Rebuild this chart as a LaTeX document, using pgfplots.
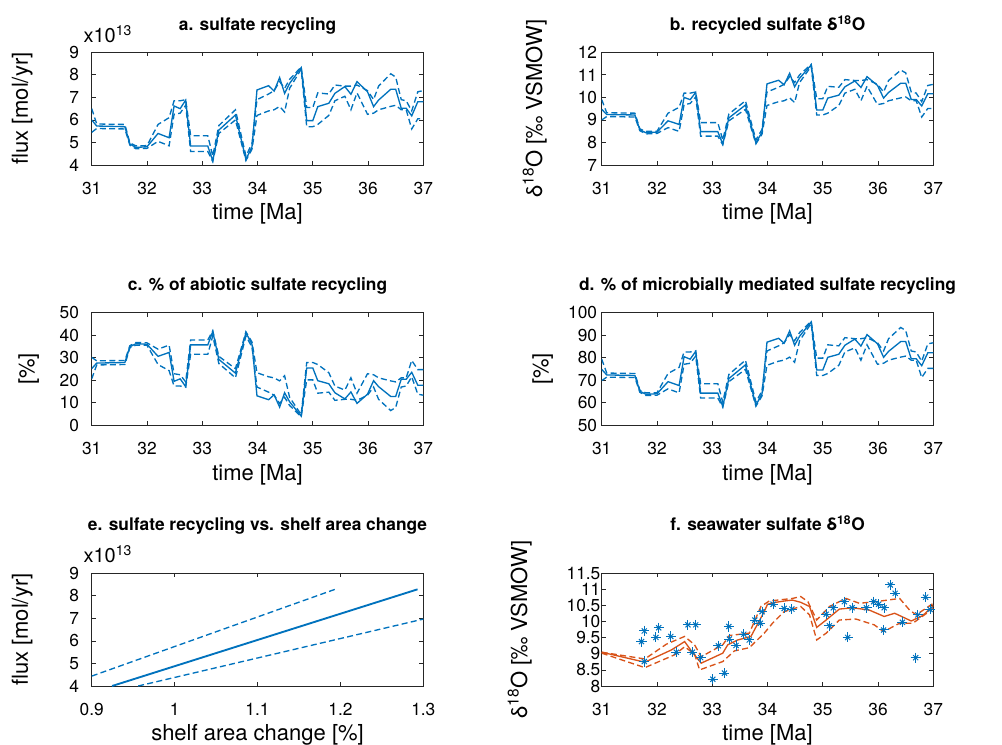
\documentclass[border=0pt]{standalone}
\usepackage{fontspec}
\setmainfont{TeX Gyre Heros}
\usepackage{pgfplots}
\usepackage{pgfplotstable}
\pgfplotsset{compat=1.18}
\definecolor{mblue}{RGB}{0,114,189}
\definecolor{morange}{RGB}{217,83,25}
\definecolor{axgray}{RGB}{38,38,38}

\pgfplotstableread{
t a aU aL b bU bL c cU cL d dU dL
31.00 6.00 6.50 5.45 9.47 9.90 9.00 25.17 30.16 20.63 74.83 79.37 69.84
31.09 5.73 5.82 5.62 9.24 9.32 9.15 27.62 28.62 26.80 72.38 73.20 71.38
31.60 5.70 5.80 5.60 9.22 9.30 9.13 27.89 28.80 26.99 72.11 73.01 71.20
31.69 4.93 4.98 4.88 8.56 8.60 8.52 34.89 35.34 34.43 65.11 65.57 64.66
31.80 4.78 4.85 4.72 8.43 8.49 8.38 36.25 36.79 35.61 63.75 64.39 63.21
32.00 4.81 4.86 4.74 8.46 8.50 8.40 35.98 36.61 35.52 64.02 64.48 63.39
32.20 5.40 5.80 5.05 8.96 9.30 8.66 30.62 33.80 26.99 69.38 73.01 66.20
32.40 5.21 6.10 4.85 8.80 9.56 8.49 32.34 35.61 24.26 67.66 75.74 64.39
32.49 6.62 6.85 6.25 10.00 10.19 9.68 19.54 22.90 17.45 80.46 82.55 77.10
32.60 6.50 6.85 6.30 9.90 10.19 9.73 20.63 22.45 17.45 79.37 82.55 77.55
32.70 6.88 6.90 6.65 10.22 10.24 10.02 17.18 19.27 17.00 82.82 83.00 80.73
32.79 4.84 5.30 4.60 8.48 8.88 8.28 35.70 37.88 31.53 64.30 68.47 62.12
33.10 4.84 5.30 4.60 8.48 8.88 8.28 35.70 37.88 31.53 64.30 68.47 62.12
33.19 4.19 4.40 4.15 7.93 8.11 7.90 41.60 41.97 39.70 58.40 60.30 58.03
33.30 5.55 5.75 5.40 9.09 9.26 8.96 29.26 30.62 27.44 70.74 72.56 69.38
33.60 6.22 6.45 6.00 9.66 9.85 9.47 23.17 25.17 21.08 76.83 78.92 74.83
33.79 4.25 4.40 4.20 7.98 8.11 7.94 41.06 41.51 39.70 58.94 60.30 58.49
33.90 4.81 4.95 4.70 8.46 8.58 8.37 35.98 36.97 34.70 64.02 65.30 63.03
33.99 7.33 6.90 6.20 10.60 10.24 9.64 13.09 23.35 17.00 86.91 83.00 76.65
34.20 7.52 7.15 6.40 10.76 10.45 9.81 11.37 21.54 14.73 88.63 85.27 78.46
34.30 7.28 7.30 6.45 10.56 10.58 9.85 13.55 21.08 13.37 86.45 86.63 78.92
34.40 7.88 7.70 6.60 11.07 10.92 9.98 8.10 19.72 9.73 91.90 90.27 80.28
34.49 7.18 7.40 6.35 10.47 10.66 9.77 14.46 21.99 12.46 85.54 87.54 78.01
34.58 7.62 7.80 7.40 10.85 11.00 10.66 10.46 12.46 8.83 89.54 91.17 87.54
34.79 8.32 8.35 8.25 11.44 11.47 11.38 4.10 4.74 3.83 95.90 96.17 95.26
34.89 5.97 6.55 5.70 9.44 9.94 9.22 25.44 27.89 20.18 74.56 79.82 72.11
35.00 5.97 6.55 5.70 9.44 9.94 9.22 25.44 27.89 20.18 74.56 79.82 72.11
35.09 6.59 7.20 5.80 9.97 10.49 9.30 19.81 26.99 14.27 80.19 85.73 73.01
35.29 6.74 7.15 6.20 10.10 10.45 9.64 18.45 23.35 14.73 81.55 85.27 76.65
35.40 7.18 7.55 6.85 10.47 10.79 10.19 14.46 17.45 11.10 85.54 88.90 82.55
35.58 7.48 7.50 7.05 10.73 10.75 10.36 11.73 15.64 11.55 88.27 88.45 84.36
35.69 7.14 7.50 6.45 10.44 10.75 9.85 14.82 21.08 11.55 85.18 88.45 78.92
35.80 7.70 7.55 7.20 10.92 10.79 10.49 9.73 14.27 11.10 90.27 88.90 85.73
35.99 7.25 7.30 6.25 10.53 10.58 9.68 13.82 22.90 13.37 86.18 86.63 77.10
36.10 6.59 6.90 6.30 9.97 10.24 9.73 19.81 22.45 17.00 80.19 83.00 77.55
36.19 6.88 7.50 6.45 10.22 10.75 9.85 17.18 21.08 11.55 82.82 88.45 78.92
36.41 7.36 8.05 6.60 10.63 11.21 9.98 12.82 19.72 6.56 87.18 93.44 80.28
36.50 7.36 7.90 6.65 10.63 11.09 10.02 12.82 19.27 7.92 87.18 92.08 80.73
36.60 6.52 6.90 6.45 9.91 10.24 9.85 20.45 21.08 17.00 79.55 83.00 78.92
36.69 6.52 6.85 6.45 9.91 10.19 9.85 20.45 21.08 17.45 79.55 82.55 78.92
36.79 6.18 6.40 5.60 9.62 9.81 9.13 23.54 28.80 21.54 76.46 78.46 71.20
36.90 6.81 7.25 6.05 10.16 10.53 9.51 17.82 24.72 13.82 82.18 86.18 75.28
37.00 6.81 7.30 6.05 10.16 10.58 9.51 17.82 24.72 13.37 82.18 86.63 75.28
}\recyc

\pgfplotstableread{
t y
31.72 9.38
31.77 9.71
31.77 8.76
31.98 9.51
32.03 9.81
32.25 9.54
32.35 9.05
32.56 9.90
32.70 9.90
32.64 9.05
32.79 8.88
33.01 8.21
33.22 8.40
33.11 9.25
33.30 9.85
33.31 9.46
33.43 9.26
33.57 9.61
33.67 9.43
33.77 10.05
33.87 9.95
33.90 10.31
34.10 10.54
34.30 10.41
34.44 10.39
35.06 10.23
35.12 9.87
35.19 10.43
35.39 10.62
35.45 9.51
35.53 10.43
35.79 10.43
35.92 10.62
36.01 10.54
36.11 10.43
36.10 9.74
36.22 11.14
36.31 10.88
36.44 9.98
36.68 8.88
36.72 10.21
36.86 10.76
36.94 10.38
}\seaobs

\pgfplotstableread{
t y
31.00 9.05
31.78 8.74
32.26 9.12
32.50 9.38
32.63 9.07
32.80 8.71
33.19 9.02
33.28 9.28
33.46 9.43
33.70 9.54
33.94 10.31
34.00 10.54
34.15 10.60
34.30 10.64
34.45 10.67
34.60 10.60
34.76 10.47
34.89 9.82
35.06 10.05
35.30 10.39
35.54 10.43
35.84 10.36
36.11 10.16
36.30 10.26
36.60 10.02
36.81 10.19
37.00 10.50
}\seamod

\pgfplotstableread{
t y
31.00 9.05
31.78 8.84
32.17 9.30
32.50 9.54
32.68 9.28
32.80 8.91
33.19 9.28
33.31 9.57
33.67 9.64
33.88 10.47
34.03 10.64
34.45 10.72
34.60 10.78
34.73 10.62
34.89 10.05
35.12 10.47
35.42 10.72
35.66 10.57
35.96 10.62
36.39 10.72
36.57 10.36
36.69 10.21
37.00 10.57
}\seaup

\pgfplotstableread{
t y
31.00 9.02
31.78 8.57
32.32 8.97
32.50 9.22
32.68 8.99
32.77 8.50
33.19 8.76
33.40 9.09
33.67 9.19
33.94 9.64
34.09 9.95
34.30 10.31
34.60 10.47
34.76 10.21
34.89 9.43
35.06 9.64
35.30 10.05
35.60 10.08
35.93 9.90
36.10 9.69
36.39 9.95
36.63 9.95
37.00 10.41
}\sealo

\newcommand{\fs}{\fontsize{13}{15.6}\selectfont}
\newcommand{\fl}{\fontsize{16.5}{19.8}\selectfont}
\pgfplotsset{
  every axis title/.style={at={(0.5,1)}, anchor=base, yshift=16.5pt, font=\bfseries\fs},
  every axis x label/.style={at={(0.5,0)}, anchor=base, yshift=-41pt, font=\fl},
  every axis y label/.style={rotate=90, anchor=base, font=\fl},
  panel/.style={scale only axis, width=248.7pt, height=84.5pt, anchor=south west,
    axis line style={axgray, line width=0.6pt},
    every tick/.style={axgray, line width=0.6pt},
    tick align=inside, major tick length=3pt,
    tick pos=both, ticklabel pos=left,
    tick label style={font=\fs, text=black},
    /pgf/number format/assume math mode=true,
    xticklabel shift=9pt,
  },
  timeax/.style={xmin=31, xmax=37, xtick={31,32,33,34,35,36,37}, xlabel={time [Ma]}},
  ylab/.style={ylabel style={at={([xshift=-#1]axis description cs:0,0.5)}}},
  sol/.style={mblue, line width=1pt, mark=none},
  dsh/.style={mblue, line width=1pt, dash pattern=on 4.5pt off 2.5pt, mark=none},
}

\begin{document}
\begin{tikzpicture}
\useasboundingbox (0,0) rectangle (751.5pt,558pt);

% a
\begin{axis}[panel, timeax, name=a, at={(68.8pt,434.25pt)},
  ymin=4, ymax=9, ytick={4,5,6,7,8,9}, yticklabel shift=6pt,
  title={a. sulfate recycling}, ylabel={flux [mol/yr]}, ylab=47.8pt]
\addplot[dsh] table[x=t,y=aU]{\recyc};
\addplot[dsh] table[x=t,y=aL]{\recyc};
\addplot[sol] table[x=t,y=a]{\recyc};
\end{axis}
\node[anchor=base west, inner sep=0pt, font=\fontsize{15}{18}\selectfont] at ([xshift=-6.3pt,yshift=7.5pt]a.north west) {x10\textsuperscript{13}};

% b
\begin{axis}[panel, timeax, name=b, at={(451.3pt,434.25pt)},
  ymin=7, ymax=12, ytick={7,8,9,10,11,12},
  title={b. recycled sulfate δ\textsuperscript{18}O}, ylabel={δ\textsuperscript{18}O [‰ VSMOW]}, ylab=44.8pt]
\addplot[dsh] table[x=t,y=bU]{\recyc};
\addplot[dsh] table[x=t,y=bL]{\recyc};
\addplot[sol] table[x=t,y=b]{\recyc};
\end{axis}

% c
\begin{axis}[panel, timeax, name=c, at={(68.8pt,239.0pt)},
  ymin=0, ymax=50, ytick={0,10,20,30,40,50}, yticklabel shift=6pt,
  title={c. \% of abiotic sulfate recycling}, ylabel={[\%]}, ylab=43pt]
\addplot[dsh] table[x=t,y=cU]{\recyc};
\addplot[dsh] table[x=t,y=cL]{\recyc};
\addplot[sol] table[x=t,y=c]{\recyc};
\end{axis}

% d
\begin{axis}[panel, timeax, name=d, at={(451.3pt,239.0pt)},
  ymin=50, ymax=100, ytick={50,60,70,80,90,100},
  title={d. \% of microbially mediated sulfate recycling}, ylabel={[\%]}, ylab=40pt]
\addplot[dsh] table[x=t,y=dU]{\recyc};
\addplot[dsh] table[x=t,y=dL]{\recyc};
\addplot[sol] table[x=t,y=d]{\recyc};
\end{axis}

% e
\begin{axis}[panel, name=e, at={(68.8pt,43.5pt)},
  xmin=0.9, xmax=1.3, xtick={0.9,1,1.1,1.2,1.3}, xlabel={shelf area change [\%]},
  ymin=4, ymax=9, ytick={4,5,6,7,8,9}, yticklabel shift=6pt,
  title style={yshift=15.75pt},
  title={e. sulfate recycling vs. shelf area change}, ylabel={flux [mol/yr]}, ylab=47.8pt]
\addplot[dsh] coordinates {(0.900,4.44) (1.1935,8.29)};
\addplot[dsh] coordinates {(0.956,4.00) (1.300,6.97)};
\addplot[mblue, line width=1.4pt] coordinates {(0.9245,4.00) (1.293,8.29)};
\end{axis}
\node[anchor=base west, inner sep=0pt, font=\fontsize{15}{18}\selectfont] at ([xshift=-6.3pt,yshift=8.5pt]e.north west) {x10\textsuperscript{13}};

% f
\begin{axis}[panel, timeax, name=f, at={(451.3pt,43.5pt)},
  ymin=8, ymax=11.5, ytick={8,8.5,9,9.5,10,10.5,11,11.5}, yticklabel shift=-2.5pt,
  title style={yshift=15.75pt},
  title={f. seawater sulfate δ\textsuperscript{18}O}, ylabel={δ\textsuperscript{18}O [‰ VSMOW]}, ylab=56pt]
\addplot[only marks, mark=+, mark size=3.8pt, mblue, line width=0.75pt] table[x=t,y=y]{\seaobs};
\addplot[only marks, mark=x, mark size=2.7pt, mblue, line width=0.75pt] table[x=t,y=y]{\seaobs};
\addplot[morange, line width=1pt, dash pattern=on 4.5pt off 2.5pt] table[x=t,y=y]{\seaup};
\addplot[morange, line width=1pt, dash pattern=on 4.5pt off 2.5pt] table[x=t,y=y]{\sealo};
\addplot[morange, line width=1pt] table[x=t,y=y]{\seamod};
\end{axis}
\end{tikzpicture}
\end{document}
